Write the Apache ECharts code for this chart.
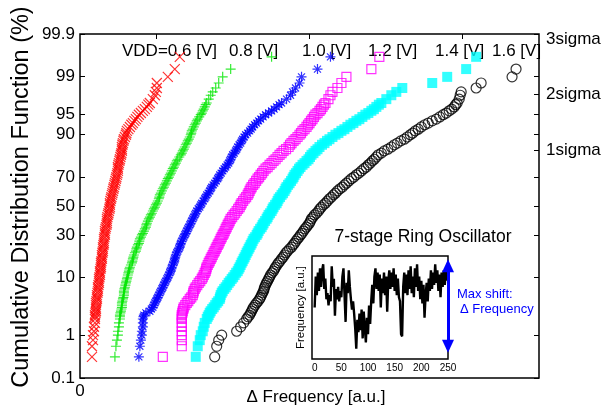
<!DOCTYPE html>
<html><head><meta charset="utf-8">
<script src="https://cdn.jsdelivr.net/npm/echarts@6/dist/echarts.min.js"></script>
<style>html,body{margin:0;padding:0;background:#fff}#c{width:614px;height:412px}</style>
</head><body><div id="c"></div>
<script>
// Probit (sigma) positions of the plotted CDF points (bottom to top)
const sigmaLevels = [-2.71,-2.52,-2.41,-2.32,-2.25,-2.17,-2.10,
-2.03,-1.99,-1.96,-1.92,-1.89,-1.85,-1.82,-1.78,-1.74,-1.71,
-1.67,-1.64,-1.60,-1.56,-1.53,-1.49,-1.46,-1.42,-1.38,-1.35,
-1.31,-1.28,-1.24,-1.20,-1.17,-1.13,-1.10,-1.06,-1.02,-0.99,
-0.95,-0.92,-0.88,-0.84,-0.81,-0.77,-0.74,-0.70,-0.67,-0.63,
-0.59,-0.56,-0.52,-0.49,-0.45,-0.41,-0.38,-0.34,-0.31,-0.27,
-0.23,-0.20,-0.16,-0.13,-0.09,-0.05,-0.02,0.02,0.05,0.09,
0.13,0.16,0.20,0.23,0.27,0.31,0.34,0.38,0.41,0.45,
0.49,0.52,0.56,0.59,0.63,0.67,0.70,0.74,0.77,0.81,
0.84,0.88,0.92,0.95,0.99,1.02,1.06,1.10,1.13,1.17,
1.20,1.24,1.28,1.31,1.35,1.38,1.42,1.46,1.49,1.53,
1.56,1.60,1.64,1.67,1.71,1.74,1.78,1.82,1.85,
1.92,1.99,2.05,2.12,2.21,2.32,2.46,2.68];

// Delta frequency [a.u.] of each supply-voltage series at those levels
const dfVdd06 = [1.2,1.2,1.3,1.3,1.4,1.4,1.5,
1.5,1.5,1.5,1.55,1.6,1.6,1.6,1.6,1.6,1.65,
1.7,1.7,1.7,1.75,1.8,1.8,1.8,1.85,1.9,1.9,
1.9,1.95,2.0,2.0,2.0,2.05,2.1,2.1,2.1,2.15,
2.2,2.2,2.2,2.25,2.3,2.3,2.3,2.35,2.4,2.4,
2.4,2.45,2.5,2.5,2.5,2.55,2.6,2.65,2.7,2.7,
2.7,2.75,2.8,2.85,2.9,2.95,3.0,3.0,3.0,3.05,
3.1,3.15,3.2,3.25,3.3,3.35,3.4,3.45,3.5,3.55,
3.6,3.65,3.7,3.75,3.8,3.8,3.8,3.85,3.9,3.95,
4.0,4.05,4.1,4.15,4.2,4.2,4.2,4.25,4.3,4.35,
4.4,4.5,4.6,4.65,4.7,4.85,5.0,5.15,5.3,5.45,
5.6,5.75,5.9,6.1,6.3,6.5,6.7,6.85,7.0,
7.3,7.5,7.6,7.7,7.7,8.8,9.5,10.0];
const dfVdd08 = [3.5,3.6,3.7,3.8,3.8,3.9,3.9,
4.0,4.0,4.0,4.05,4.1,4.15,4.2,4.2,4.2,4.25,
4.3,4.35,4.4,4.4,4.4,4.45,4.5,4.55,4.6,4.65,
4.7,4.75,4.8,4.85,4.9,4.95,5.0,5.1,5.2,5.25,
5.3,5.35,5.4,5.5,5.6,5.65,5.7,5.8,5.9,5.95,
6.0,6.1,6.2,6.3,6.4,6.5,6.6,6.65,6.7,6.8,
6.9,7.0,7.1,7.2,7.3,7.4,7.5,7.6,7.7,7.8,
7.9,7.95,8.0,8.1,8.2,8.3,8.4,8.5,8.6,8.7,
8.8,8.9,9.0,9.1,9.2,9.3,9.4,9.5,9.6,9.7,
9.8,9.95,10.1,10.2,10.3,10.4,10.5,10.6,10.7,10.8,
10.9,11.0,11.1,11.15,11.2,11.3,11.4,11.5,11.6,11.7,
11.8,11.95,12.1,12.2,12.3,12.4,12.5,12.6,12.7,
12.9,13.1,13.3,13.6,13.9,14.3,15.1,19.2];
const dfVdd10 = [5.9,6.0,6.1,6.2,6.2,6.3,6.3,
6.3,6.35,6.4,6.6,7.0,7.15,7.3,7.4,7.5,7.6,
7.7,7.8,7.9,8.0,8.1,8.2,8.3,8.4,8.5,8.6,
8.7,8.8,8.9,9.0,9.1,9.15,9.2,9.3,9.4,9.45,
9.5,9.55,9.6,9.7,9.8,9.9,10.0,10.05,10.1,10.2,
10.3,10.4,10.5,10.6,10.7,10.8,10.9,11.0,11.1,11.2,
11.3,11.4,11.5,11.6,11.7,11.85,12.0,12.1,12.2,12.35,
12.5,12.6,12.7,12.85,13.0,13.1,13.2,13.35,13.5,13.65,
13.8,13.9,14.0,14.15,14.3,14.45,14.6,14.75,14.9,15.0,
15.1,15.2,15.3,15.45,15.6,15.7,15.8,15.95,16.1,16.2,
16.3,16.45,16.6,16.8,17.0,17.15,17.3,17.5,17.7,17.9,
18.1,18.35,18.6,18.9,19.2,19.45,19.7,19.95,20.2,
20.7,21.1,21.3,21.6,22.0,22.2,23.8,25.1];
const dfVdd12 = [8.3,10.2,10.2,10.2,10.2,10.2,10.2,
10.2,10.2,10.2,10.25,10.3,10.35,10.4,10.55,10.7,10.85,
11.0,11.15,11.3,11.35,11.4,11.5,11.6,11.75,11.9,12.05,
12.2,12.3,12.4,12.5,12.6,12.65,12.7,12.8,12.9,13.0,
13.1,13.2,13.3,13.4,13.5,13.6,13.7,13.8,13.9,14.0,
14.1,14.2,14.3,14.4,14.5,14.6,14.7,14.8,14.9,15.0,
15.1,15.25,15.4,15.55,15.7,15.85,16.0,16.1,16.2,16.35,
16.5,16.65,16.8,16.9,17.0,17.1,17.2,17.35,17.5,17.65,
17.8,17.95,18.1,18.25,18.4,18.6,18.8,19.0,19.2,19.4,
19.6,19.8,20.0,20.2,20.4,20.65,20.9,21.05,21.2,21.4,
21.6,21.8,22.0,22.15,22.3,22.5,22.7,22.85,23.0,23.15,
23.3,23.45,23.6,23.8,24.0,24.15,24.3,24.45,24.6,
24.9,25.1,25.3,25.8,26.2,26.7,29.2,30.0];
const dfVdd14 = [11.6,11.8,12.0,12.1,12.3,12.4,12.5,
12.7,12.8,12.9,13.0,13.1,13.25,13.4,13.55,13.7,13.85,
14.0,14.05,14.1,14.2,14.3,14.45,14.6,14.75,14.9,15.05,
15.2,15.35,15.5,15.65,15.8,15.9,16.0,16.1,16.2,16.3,
16.4,16.5,16.6,16.7,16.8,16.9,17.0,17.1,17.2,17.3,
17.4,17.55,17.7,17.8,17.9,18.05,18.2,18.3,18.4,18.55,
18.7,18.8,18.9,19.05,19.2,19.3,19.4,19.55,19.7,19.8,
19.9,20.05,20.2,20.35,20.5,20.6,20.7,20.85,21.0,21.15,
21.3,21.4,21.5,21.65,21.8,21.95,22.1,22.3,22.5,22.7,
22.9,23.05,23.2,23.4,23.6,23.8,24.0,24.25,24.5,24.75,
25.0,25.3,25.6,25.9,26.2,26.5,26.8,27.1,27.4,27.7,
28.0,28.3,28.6,28.9,29.2,29.45,29.7,29.95,30.2,
30.7,31.2,31.7,32.3,35.3,36.8,38.7,39.7];
const dfVdd16 = [13.5,13.7,13.9,14.2,15.7,16.1,16.4,
16.7,16.85,17.0,17.1,17.2,17.3,17.4,17.55,17.7,17.85,
18.0,18.1,18.2,18.3,18.4,18.45,18.5,18.6,18.7,18.8,
18.9,19.0,19.1,19.25,19.4,19.5,19.6,19.75,19.9,20.05,
20.2,20.35,20.5,20.65,20.8,21.0,21.2,21.35,21.5,21.65,
21.8,21.95,22.1,22.25,22.4,22.55,22.7,22.85,23.0,23.1,
23.2,23.35,23.5,23.7,23.9,24.05,24.2,24.4,24.6,24.8,
25.0,25.2,25.4,25.6,25.8,26.05,26.3,26.5,26.7,26.95,
27.2,27.45,27.7,27.95,28.2,28.45,28.7,28.9,29.1,29.3,
29.5,29.7,29.9,30.2,30.5,30.85,31.2,31.5,31.8,32.15,
32.5,32.8,33.1,33.35,33.6,33.9,34.2,34.55,34.9,35.3,
35.7,36.05,36.4,36.7,37.0,37.25,37.5,37.65,37.8,
38.0,38.1,38.2,39.7,40.2,43.3,43.7,null];

// Axis tick labels
const tickPercent = ['0.1','1','10','30','50','70','90','95','99','99.9'];
const tickSigma = [-3.09,-2.326,-1.282,-0.524,0,0.524,1.282,1.645,2.326,3.09];
const sigmaLabelValues = [1,2,3];
const vddLabels = ['VDD=0.6 [V]','0.8 [V]','1.0 [V]','1.2 [V]','1.4 [V]','1.6 [V]'];
const insetTicks = [0,50,100,150,200,250];

// Inset: ring-oscillator frequency trace (every 2nd sample)
const insetStep = 2;
const insetFreq = [50,80,62,84,66,88,70,86,92,68,78,58,64,52,62,56,90,70,78,42,68,58,70,56,66,60,80,88,62,36,74,64,86,70,58,48,56,44,30,10,38,26,44,28,48,20,46,30,16,40,24,52,34,56,72,54,80,88,68,84,66,82,50,78,64,84,62,80,46,76,86,68,84,70,88,66,82,62,78,60,56,24,22,70,84,64,82,62,86,68,90,64,80,60,88,70,92,66,80,58,76,54,72,40,62,74,56,78,66,86,68,84,72,92,74,86,66,82,60,84,70,86,72,88,76,84];

const FONT = "'Liberation Sans', Arial, Helvetica, sans-serif";
const chart = echarts.init(document.getElementById('c'), null, {renderer:'canvas'});

function pts(xs){ const out=[]; xs.forEach((x,i)=>{ if(x!==null) out.push([x, sigmaLevels[i]]); }); return out; }

const SYM_X = 'path://M0,0L10,10M10,0L0,10';
const SYM_PLUS = 'path://M5,0L5,10M0,5L10,5';
const SYM_STAR = 'path://M5,0L5,10M0,5L10,5M1.5,1.5L8.5,8.5M8.5,1.5L1.5,8.5';

function sc(name, xs, symbol, color, filled, size){
  return {
    type:'scatter', name, xAxisIndex:0, yAxisIndex:0, data: pts(xs),
    symbol, symbolSize: size||10, silent:true,
    itemStyle: filled ? {color} : {color:'rgba(0,0,0,0)', borderColor:color, borderWidth:1.2}
  };
}

const vddX = [122,229,302,368,435,492];

const option = {
  animation:false,
  backgroundColor:'#fff',
  grid:[
    {left:80, top:34, right:75, bottom:34, show:true, borderColor:'#000', borderWidth:1.5, backgroundColor:'transparent'},
    {left:312, top:256, width:136, height:103, show:true, borderColor:'#000', borderWidth:1.5, backgroundColor:'#fff'}
  ],
  xAxis:[
    {type:'value', gridIndex:0, min:0, max:46, axisLine:{show:false, onZero:false}, axisTick:{show:false}, splitLine:{show:false},
     axisLabel:{customValues:[0], fontSize:17, color:'#000', margin:5, fontFamily:FONT}},
    {type:'category', gridIndex:0, position:'top', data:['','',''], boundaryGap:true,
     axisLine:{show:false, onZero:false}, axisTick:{show:true, inside:true, alignWithLabel:true, length:5, lineStyle:{color:'#000'}},
     axisLabel:{show:false}, splitLine:{show:false}},
    {type:'value', gridIndex:1, min:-5, max:250, axisLine:{show:false, onZero:false}, axisTick:{show:false}, splitLine:{show:false},
     axisLabel:{customValues:insetTicks, fontSize:10, color:'#000', margin:4, fontFamily:FONT}}
  ],
  yAxis:[
    {type:'value', gridIndex:0, min:-3.09, max:3.09, axisLine:{show:false, onZero:false}, splitLine:{show:false},
     axisTick:{show:true, inside:true, length:5, customValues:tickSigma, lineStyle:{color:'#000'}},
     axisLabel:{customValues:tickSigma, fontSize:17, color:'#000', margin:5, fontFamily:FONT,
       formatter:(v)=>{ const i=tickSigma.findIndex(t=>Math.abs(t-v)<1e-6); return i>=0?tickPercent[i]:''; }}},
    {type:'value', gridIndex:0, position:'right', min:-3.09, max:3.09, axisLine:{show:false, onZero:false}, splitLine:{show:false},
     axisTick:{show:true, inside:true, length:5, customValues:tickSigma.concat([1,2]), lineStyle:{color:'#000'}},
     axisLabel:{customValues:sigmaLabelValues, fontSize:17, color:'#000', margin:7, fontFamily:FONT,
       formatter:(v)=>v+'sigma'}},
    {type:'value', gridIndex:1, min:0, max:100, axisLine:{show:false, onZero:false}, axisTick:{show:false}, splitLine:{show:false},
     axisLabel:{show:false}, name:'Frequency [a.u.]', nameLocation:'middle', nameGap:5,
     nameTextStyle:{fontSize:11.5, color:'#000', fontFamily:FONT}}
  ],
  series:[
    sc('0.6', dfVdd06, SYM_X, '#ff0000', false),
    sc('0.8', dfVdd08, SYM_PLUS, '#00e600', false),
    sc('1.0', dfVdd10, SYM_STAR, '#0000ff', false),
    sc('1.2', dfVdd12, 'rect', '#ff00ff', false, 9),
    sc('1.4', dfVdd14, 'rect', '#00ffff', true, 10),
    sc('1.6', dfVdd16, 'circle', '#000000', false, 10),
    {type:'line', xAxisIndex:2, yAxisIndex:2, data: insetFreq.map((v,i)=>[i*insetStep, v]),
     showSymbol:false, symbol:'none', silent:true, lineStyle:{color:'#000', width:2.4},
     markLine:{silent:true, symbol:['triangle','triangle'], symbolSize:[12,13], label:{show:false},
       lineStyle:{color:'#0000ff', width:3, type:'solid'},
       data:[[{coord:[250,90.5]},{coord:[250,12.4]}]]}}
  ],
  graphic:[
    ...vddLabels.map((t,i)=>({type:'text', x:vddX[i], y:51, silent:true,
      style:{text:t, font:'17px '+FONT, fill:'#000', textAlign:'left', textVerticalAlign:'middle', align:'left', verticalAlign:'middle'}})),
    {type:'text', x:423, y:237, silent:true,
      style:{text:'7-stage Ring Oscillator', font:'17.5px '+FONT, fill:'#000', textAlign:'center', textVerticalAlign:'middle', align:'center', verticalAlign:'middle'}},
    {type:'text', x:457, y:294, silent:true,
      style:{text:'Max shift:', font:'13px '+FONT, fill:'#0000ff', textAlign:'left', textVerticalAlign:'middle', align:'left', verticalAlign:'middle'}},
    {type:'text', x:460, y:309, silent:true,
      style:{text:'\u0394 Frequency', font:'13px '+FONT, fill:'#0000ff', textAlign:'left', textVerticalAlign:'middle', align:'left', verticalAlign:'middle'}},
    {type:'text', x:316, y:397, silent:true,
      style:{text:'\u0394 Frequency [a.u.]', font:'17px '+FONT, fill:'#000', textAlign:'center', textVerticalAlign:'middle', align:'center', verticalAlign:'middle'}},
    {type:'text', x:22, y:197, rotation:Math.PI/2, silent:true,
      style:{text:'Cumulative Distribution Function (%)', font:'23.5px '+FONT, fill:'#000', textAlign:'center', textVerticalAlign:'middle', align:'center', verticalAlign:'middle'}}
  ]
};
chart.setOption(option);
</script>
</body></html>
